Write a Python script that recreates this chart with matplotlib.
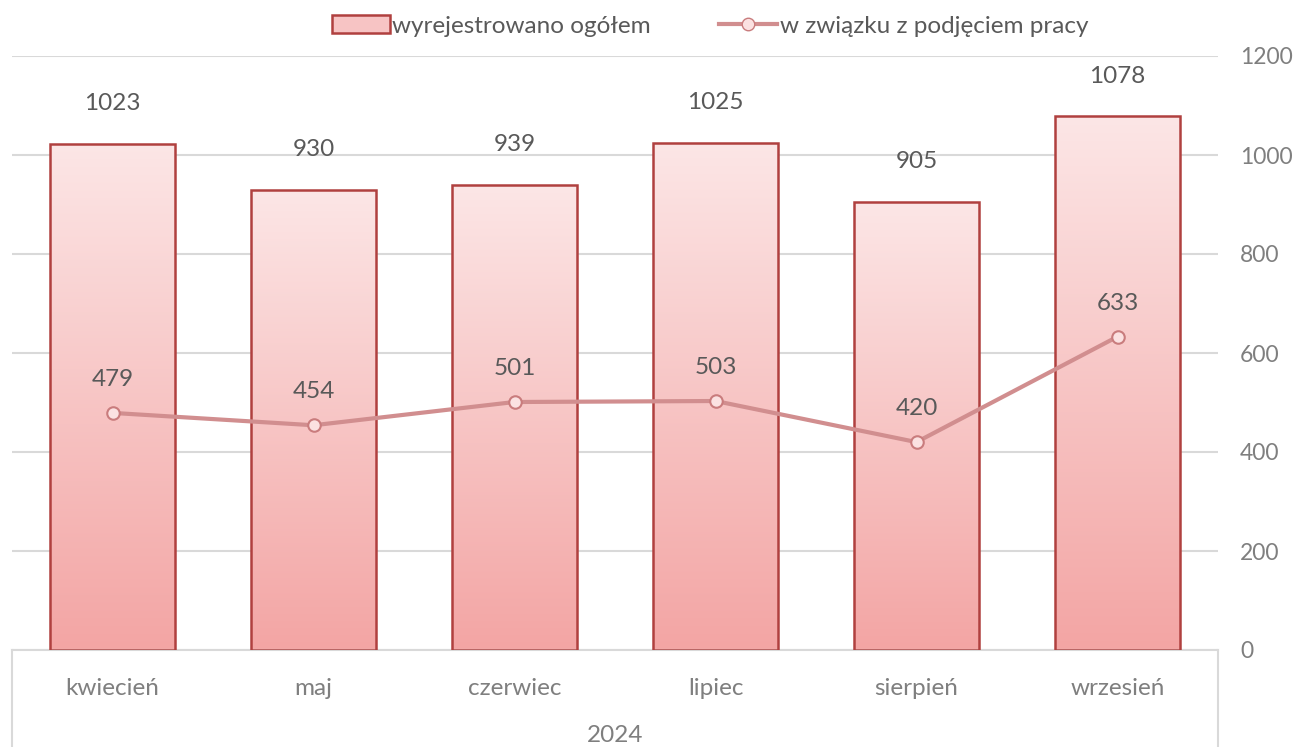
import numpy as np
import matplotlib.pyplot as plt
from matplotlib.colors import LinearSegmentedColormap
from matplotlib.patches import Patch
from matplotlib.lines import Line2D

plt.rcParams['font.family'] = ['Lato', 'DejaVu Sans']

# dane
miesiace = ['kwiecień', 'maj', 'czerwiec', 'lipiec', 'sierpień', 'wrzesień']
ogolem = [1023, 930, 939, 1025, 905, 1078]
podjecie_pracy = [479, 454, 501, 503, 420, 633]
rok = '2024'

W, H = 1295, 747
fig = plt.figure(figsize=(W / 100, H / 100), dpi=100)
ax = fig.add_axes([12 / W, 1 - 650 / H, (1218 - 12) / W, 594 / H])

x = np.arange(len(miesiace))
ax.set_xlim(-0.5, len(miesiace) - 0.5)
ax.set_ylim(0, 1200)

cmap = LinearSegmentedColormap.from_list('roz', ['#f3a5a4', '#fce6e6'])
grad = np.linspace(0, 1, 256).reshape(-1, 1)

bars = ax.bar(x, ogolem, width=0.62, facecolor='none', edgecolor='#b0403f',
              linewidth=1.8, zorder=3)
for b in bars:
    x0, y0, w, h = b.get_x(), b.get_y(), b.get_width(), b.get_height()
    im = ax.imshow(grad, cmap=cmap, aspect='auto', origin='lower',
                   extent=(x0, x0 + w, y0, y0 + h), zorder=2)
    im.set_clip_path(b)

ax.plot(x, podjecie_pracy, color='#d18e8f', linewidth=3, marker='o',
        markersize=9, markerfacecolor='#fbe1e1', markeredgecolor='#c97c7d',
        markeredgewidth=1.5, zorder=4)

for xi, v in zip(x, ogolem):
    ax.annotate(str(v), (xi, v), xytext=(0, 29), textcoords='offset points',
                ha='center', va='center', fontsize=17.5, color='#595959')
for xi, v in zip(x, podjecie_pracy):
    ax.annotate(str(v), (xi, v), xytext=(0, 24), textcoords='offset points',
                ha='center', va='center', fontsize=17.5, color='#595959')

ax.set_yticks(range(0, 1201, 200))
ax.yaxis.tick_right()
ax.tick_params(axis='y', length=0, pad=16, labelsize=16.5, labelcolor='#7f7f7f')
for lab in ax.get_yticklabels():
    lab.set_horizontalalignment('left')
ax.grid(axis='y', color='#d9d9d9', linewidth=1.5, zorder=0)
ax.set_axisbelow(True)

ax.set_xticks(x)
ax.set_xticklabels(miesiace)
ax.tick_params(axis='x', length=0, pad=20, labelsize=17.5, labelcolor='#7f7f7f')

for s in ['top', 'left', 'right']:
    ax.spines[s].set_visible(False)
ax.spines['bottom'].set_color('#d9d9d9')
ax.spines['bottom'].set_linewidth(1.5)

# ramka osi kategorii
dy = 110 / 594
for xe in (0, 1):
    ax.plot([xe, xe], [0, -dy], transform=ax.transAxes, color='#d9d9d9',
            linewidth=1.5, clip_on=False)
fig.text((12 + 1218) / 2 / W, 1 - 735 / H, rok, ha='center', va='center',
         fontsize=17.5, color='#7f7f7f')

handles = [Patch(facecolor='#f7c4c4', edgecolor='#b0403f', linewidth=1.8),
           Line2D([], [], color='#d18e8f', linewidth=3, marker='o', markersize=9,
                  markerfacecolor='#fbe1e1', markeredgecolor='#c97c7d')]
fig.legend(handles, ['wyrejestrowano ogółem', 'w związku z podjęciem pracy'],
           loc='center', bbox_to_anchor=(710 / W, 1 - 26 / H), ncol=2,
           frameon=False, fontsize=17.5, labelcolor='#595959',
           handlelength=2.4, handletextpad=0.1, columnspacing=2.8)

fig.savefig('out.png', dpi=100)
